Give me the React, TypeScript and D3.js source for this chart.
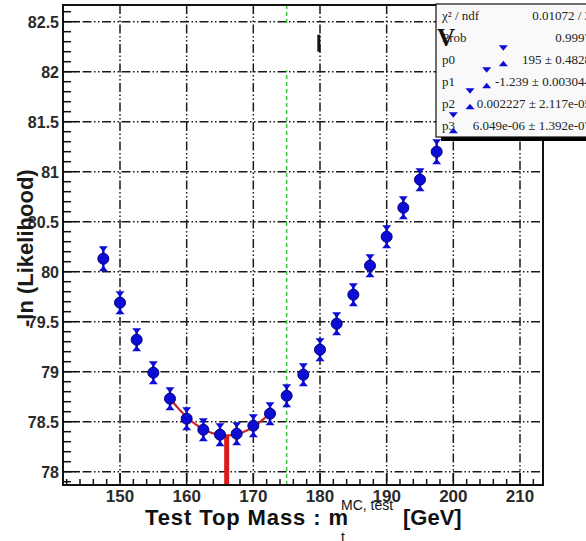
import React from "react";
import * as d3 from "d3";

// ---- data ----
const massPoints = [147.5, 150, 152.5, 155, 157.5, 160, 162.5, 165, 167.5, 170, 172.5, 175, 177.5, 180, 182.5, 185, 187.5, 190, 192.5, 195, 197.5];
const nllValues = [80.13, 79.69, 79.32, 78.99, 78.73, 78.53, 78.42, 78.37, 78.38, 78.46, 78.58, 78.76, 78.97, 79.22, 79.48, 79.77, 80.06, 80.35, 80.64, 80.92, 81.2];
const nllErrors = [0.11, 0.1, 0.1, 0.1, 0.1, 0.1, 0.1, 0.1, 0.1, 0.1, 0.1, 0.1, 0.1, 0.1, 0.1, 0.1, 0.1, 0.1, 0.1, 0.1, 0.11];
// points hidden behind the stats box (only their error caps show)
const hiddenMass = [200, 202.5, 205, 207.5];
const hiddenNll = [81.49, 81.73, 81.94, 82.16];
const hiddenErr = [0.09, 0.09, 0.09, 0.09];

const xTicks = [150, 160, 170, 180, 190, 200, 210];
const yTicks = [78, 78.5, 79, 79.5, 80, 80.5, 81, 81.5, 82, 82.5];

// fit: pol3 parameters from stats box
const fitParams = [195, -1.239, 0.002227, 6.049e-6];
const fitRange = [157.5, 172.5];
const fitMinimum = 166.0;
const topMassRef = 175;

const statLabels = ["χ² / ndf", "Prob", "p0", "p1", "p2", "p3"];
const statValues = ["0.01072 / 3", "0.9997", "195 ± 0.4828", "-1.239 ± 0.003044", "0.002227 ± 2.117e-05", "6.049e-06 ± 1.392e-07"];

const W = 586, H = 541;
const L = 63, T = 5, R = 543, B = 485;

export default function App() {
  const x = d3.scaleLinear().domain([141.45, 213.45]).range([L, R]);
  const y = d3.scaleLinear().domain([77.867, 82.667]).range([B, T]);
  const poly = (m: number) => fitParams[0] + fitParams[1] * m + fitParams[2] * m * m + fitParams[3] * m * m * m;
  const fitPts: [number, number][] = [];
  for (let m = fitRange[0]; m <= fitRange[1] + 1e-9; m += 0.25) fitPts.push([x(m), y(poly(m))]);
  const line = d3.line();

  const xMinor = d3.range(142, 213.5, 2).filter((v) => Math.abs(v % 10) > 0.01);
  const yMinor = d3.range(77.9, 82.67, 0.1).filter((v) => Math.abs(Math.round(v * 2) / 2 - v) > 0.01);

  const blue = "#0c0cd4";
  const gridDash = "9 2.5 1.5 2.5 1.5 2.5";
  const font = "'Liberation Sans', Arial, sans-serif";

  const capDown = (cx: number, cy: number) => `M${cx - 4.5},${cy - 1.5} L${cx + 4.5},${cy - 1.5} L${cx},${cy + 4} Z`;
  const capUp = (cx: number, cy: number) => `M${cx - 4.5},${cy + 1.5} L${cx + 4.5},${cy + 1.5} L${cx},${cy - 4} Z`;

  const boxL = 436, boxT = 4, boxB = 137;
  const rowH = (boxB - boxT) / 6;

  return (
    <svg width={W} height={H} style={{ position: "absolute", left: 0, top: 0, background: "#fff" }}>
      <rect x={0} y={0} width={W} height={H} fill="#fff" />
      {/* grid */}
      {xTicks.map((t) => (
        <line key={"gx" + t} x1={x(t)} x2={x(t)} y1={T} y2={B} stroke="#1a1a1a" strokeWidth={1.5} strokeDasharray={gridDash} />
      ))}
      {yTicks.map((t) => (
        <line key={"gy" + t} x1={L} x2={R} y1={y(t)} y2={y(t)} stroke="#1a1a1a" strokeWidth={1.5} strokeDasharray={gridDash} />
      ))}
      {/* reference top mass line */}
      <line x1={x(topMassRef)} x2={x(topMassRef)} y1={T} y2={B} stroke="#3fc43f" strokeWidth={1.5} strokeDasharray="4 3" />
      {/* blank patch */}
      <rect x={x(170) + 1} y={y(82.5) + 1.5} width={x(179.75) - x(170) - 1} height={y(82) - y(82.5) - 3} fill="#fff" />
      <rect x={x(179.75) - 1} y={y(82.37)} width={3} height={y(82.2) - y(82.37)} fill="#111" />

      {/* ticks */}
      {xTicks.map((t) => (
        <line key={"tx" + t} x1={x(t)} x2={x(t)} y1={B} y2={B - 12} stroke="#111" strokeWidth={1.5} />
      ))}
      {xMinor.map((t) => (
        <line key={"mx" + t} x1={x(t)} x2={x(t)} y1={B} y2={B - 6} stroke="#111" strokeWidth={1.5} />
      ))}
      {yTicks.map((t) => (
        <line key={"ty" + t} x1={L} x2={L + 16} y1={y(t)} y2={y(t)} stroke="#111" strokeWidth={1.5} />
      ))}
      {yMinor.map((t) => (
        <line key={"my" + t} x1={L} x2={L + 8} y1={y(t)} y2={y(t)} stroke="#111" strokeWidth={1.5} />
      ))}

      {/* fit */}
      <path d={line(fitPts) || ""} fill="none" stroke="#c8262a" strokeWidth={2.2} />
      <line x1={x(fitMinimum)} x2={x(fitMinimum)} y1={y(poly(fitMinimum))} y2={B} stroke="#dd1a1a" strokeWidth={5} />

      {/* data */}
      {massPoints.map((m, i) => {
        const cx = x(m), cy = y(nllValues[i]);
        const yt = y(nllValues[i] + nllErrors[i]), yb = y(nllValues[i] - nllErrors[i]);
        return (
          <g key={"p" + i}>
            <line x1={cx} x2={cx} y1={yt} y2={yb} stroke={blue} strokeWidth={2.5} />
            <path d={capDown(cx, yt)} fill={blue} />
            <path d={capUp(cx, yb)} fill={blue} />
            <circle cx={cx} cy={cy} r={5.5} fill={blue} stroke="#00007a" strokeWidth={1} />
          </g>
        );
      })}

      {/* frame */}
      <rect x={L} y={T} width={R - L} height={B - T} fill="none" stroke="#111" strokeWidth={2} />

      {/* stats box */}
      <rect x={boxL + 5} y={boxB} width={W} height={4} fill="#000" />
      <rect x={boxL} y={boxT} width={W} height={boxB - boxT} fill="#f9f9f9" stroke="#111" strokeWidth={1.2} />
      {statLabels.map((s, i) => (
        <text key={"sl" + i} x={boxL + 6} y={boxT + rowH * (i + 0.5) + 4.5} fontFamily="'Liberation Serif', 'DejaVu Serif', serif" fontSize={13} fill="#222">
          {s}
        </text>
      ))}
      {statValues.map((s, i) => (
        <text key={"sv" + i} x={591} y={boxT + rowH * (i + 0.5) + 4.5} textAnchor="end" fontFamily="'Liberation Serif', 'DejaVu Serif', serif" fontSize={13} fill="#222">
          {s}
        </text>
      ))}
      <text x={boxL + 1} y={boxT + rowH * 1.5 + 9} fontFamily="'Liberation Serif', serif" fontWeight="bold" fontSize={25} fill="#111">V</text>
      {hiddenMass.map((m, i) => {
        const cx = x(m);
        const yt = y(hiddenNll[i] + hiddenErr[i]), yb = y(hiddenNll[i] - hiddenErr[i]);
        return (
          <g key={"h" + i}>
            <path d={capDown(cx, yt)} fill={blue} />
            <path d={capUp(cx, yb)} fill={blue} />
          </g>
        );
      })}

      {/* tick labels */}
      {xTicks.map((t) => (
        <text key={"lx" + t} x={x(t)} y={502} textAnchor="middle" fontFamily={font} fontWeight="bold" fontSize={17} fill="#2a2a2a">
          {t}
        </text>
      ))}
      {yTicks.map((t) => (
        <text key={"ly" + t} x={59} y={y(t) + 6} textAnchor="end" fontFamily={font} fontWeight="bold" fontSize={16} fill="#2a2a2a">
          {t}
        </text>
      ))}

      {/* axis titles */}
      <text transform={`translate(33,${327}) rotate(-90)`} fontFamily={font} fontWeight="bold" fontSize={22} fill="#1a1a1a">
        -ln (Likelihood)
      </text>
      <text x={145} y={525} textLength={203} lengthAdjust="spacing" fontFamily={font} fontWeight="bold" fontSize={22} fill="#111">
        Test Top Mass : m
      </text>
      <text x={341} y={510} fontFamily={font} fontSize={14} fill="#111">MC, test</text>
      <text x={341} y={542} fontFamily={font} fontSize={14} fill="#111">t</text>
      <text x={403} y={525} fontFamily={font} fontWeight="bold" fontSize={22} fill="#111">[GeV]</text>
    </svg>
  );
}
